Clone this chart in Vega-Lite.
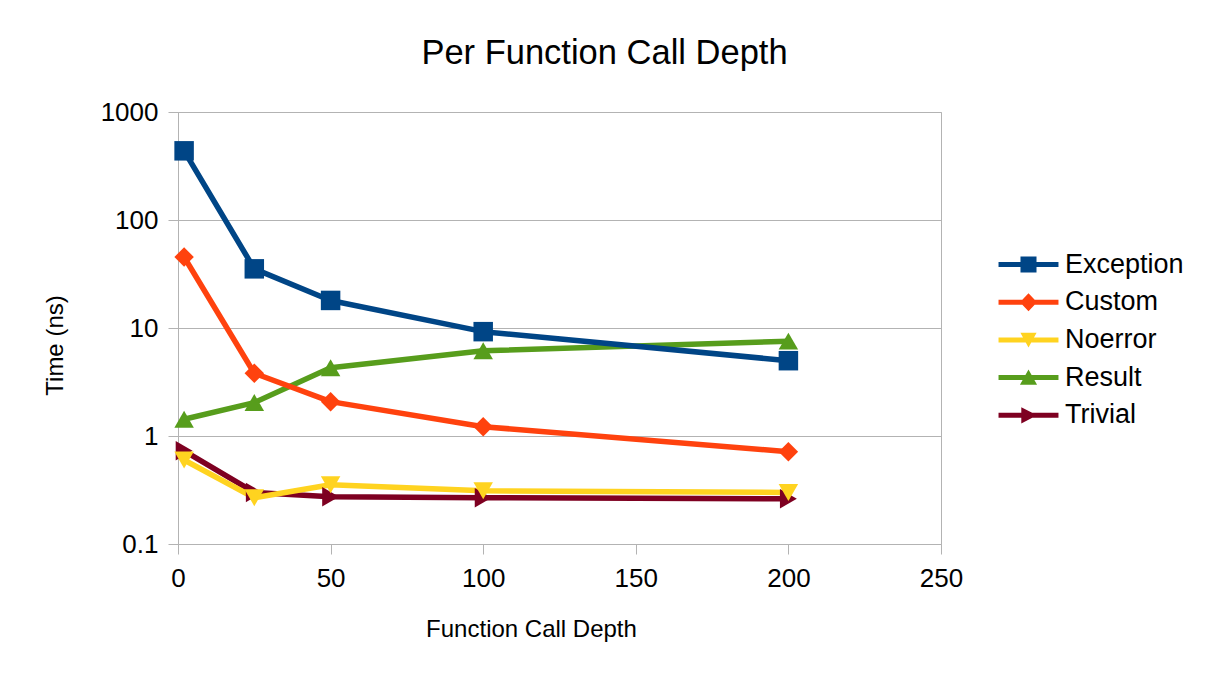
{
  "$schema": "https://vega.github.io/schema/vega-lite/v6.json",
  "width": 763,
  "height": 432,
  "autosize": {"type": "none"},
  "padding": {"left": 178, "top": 112, "right": 268, "bottom": 136},
  "background": "white",
  "config": {
    "font": "Liberation Sans",
    "view": {"stroke": "#b3b3b3", "strokeWidth": 1}
  },
  "title": {
    "text": "Per Function Call Depth",
    "font": "Liberation Sans",
    "fontSize": 34.5,
    "fontWeight": "normal",
    "color": "black",
    "anchor": "middle",
    "frame": "group",
    "baseline": "alphabetic",
    "offset": 1,
    "dx": 45
  },
  "data": {
    "values": [
      {"series": "Trivial", "depth": 2, "time": 0.73},
      {"series": "Trivial", "depth": 25, "time": 0.30},
      {"series": "Trivial", "depth": 50, "time": 0.274},
      {"series": "Trivial", "depth": 100, "time": 0.268},
      {"series": "Trivial", "depth": 200, "time": 0.262},
      {"series": "Noerror", "depth": 2, "time": 0.6},
      {"series": "Noerror", "depth": 25, "time": 0.268},
      {"series": "Noerror", "depth": 50, "time": 0.354},
      {"series": "Noerror", "depth": 100, "time": 0.311},
      {"series": "Noerror", "depth": 200, "time": 0.30},
      {"series": "Result", "depth": 2, "time": 1.43},
      {"series": "Result", "depth": 25, "time": 2.04},
      {"series": "Result", "depth": 50, "time": 4.28},
      {"series": "Result", "depth": 100, "time": 6.15},
      {"series": "Result", "depth": 200, "time": 7.55},
      {"series": "Custom", "depth": 2, "time": 45.4},
      {"series": "Custom", "depth": 25, "time": 3.81},
      {"series": "Custom", "depth": 50, "time": 2.08},
      {"series": "Custom", "depth": 100, "time": 1.22},
      {"series": "Custom", "depth": 200, "time": 0.716},
      {"series": "Exception", "depth": 2, "time": 437},
      {"series": "Exception", "depth": 25, "time": 35.3},
      {"series": "Exception", "depth": 50, "time": 18.0},
      {"series": "Exception", "depth": 100, "time": 9.25},
      {"series": "Exception", "depth": 200, "time": 4.98}
    ]
  },
  "encoding": {
    "x": {
      "field": "depth",
      "type": "quantitative",
      "scale": {"domain": [0, 250], "nice": false, "zero": false},
      "axis": {
        "title": "Function Call Depth",
        "values": [0, 50, 100, 150, 200, 250],
        "grid": false,
        "labelFlush": false,
        "domainColor": "#b3b3b3",
        "tickColor": "#b3b3b3",
        "tickSize": 10,
        "labelFontSize": 26,
        "labelColor": "black",
        "labelPadding": 11,
        "labelFont": "Liberation Sans",
        "titleFont": "Liberation Sans",
        "titleFontSize": 24,
        "titleFontWeight": "normal",
        "titleColor": "black",
        "titleAnchor": "start",
        "titleAlign": "center",
        "titleBaseline": "alphabetic",
        "titleX": 353,
        "titleY": 92
      }
    },
    "y": {
      "field": "time",
      "type": "quantitative",
      "scale": {"type": "log", "domain": [0.1, 1000], "nice": false},
      "axis": {
        "title": "Time (ns)",
        "values": [0.1, 1, 10, 100, 1000],
        "format": "~g",
        "grid": true,
        "labelFlush": false,
        "gridColor": "#b3b3b3",
        "gridWidth": 1,
        "domainColor": "#b3b3b3",
        "tickColor": "#b3b3b3",
        "tickSize": 10,
        "labelFontSize": 26,
        "labelColor": "black",
        "labelPadding": 10,
        "labelFont": "Liberation Sans",
        "titleFont": "Liberation Sans",
        "titleFontSize": 24,
        "titleFontWeight": "normal",
        "titleColor": "black",
        "titleAngle": -90,
        "titleAlign": "center",
        "titleBaseline": "alphabetic",
        "titleAnchor": "start",
        "titleX": -116,
        "titleY": 233
      }
    }
  },
  "resolve": {
    "scale": {"color": "independent", "shape": "independent"},
    "legend": {"color": "independent", "shape": "independent"}
  },
  "layer": [
    {
      "mark": {"type": "line", "strokeWidth": 5.5, "strokeJoin": "round"},
      "encoding": {
        "color": {
          "field": "series",
          "type": "nominal",
          "scale": {
            "domain": ["Exception", "Custom", "Noerror", "Result", "Trivial"],
            "range": ["#004586", "#ff420e", "#ffd320", "#579d1c", "#7e0021"]
          },
          "legend": null
        }
      }
    },
    {
      "mark": {"type": "point", "filled": true, "opacity": 1, "size": 380},
      "encoding": {
        "shape": {
          "field": "series",
          "type": "nominal",
          "scale": {
            "domain": ["Exception", "Custom", "Noerror", "Result", "Trivial"],
            "range": ["square", "diamond", "triangle-down", "triangle-up", "triangle-right"]
          },
          "legend": null
        },
        "color": {
          "field": "series",
          "type": "nominal",
          "scale": {
            "domain": ["Exception", "Custom", "Noerror", "Result", "Trivial"],
            "range": ["#004586", "#ff420e", "#ffd320", "#579d1c", "#7e0021"]
          },
          "legend": null
        }
      }
    },
    {
      "mark": {"type": "point", "filled": true, "opacity": 0},
      "encoding": {
        "shape": {
          "field": "series",
          "type": "nominal",
          "scale": {
            "domain": ["Exception", "Custom", "Noerror", "Result", "Trivial"],
            "range": [
              "M-3.33,-0.28H3.33V0.28H-3.33Z M-0.89,-0.89H0.89V0.89H-0.89Z",
              "M-3.33,-0.28H3.33V0.28H-3.33Z M0,-1L0.95,0L0,1L-0.95,0Z",
              "M-3.33,-0.28H3.33V0.28H-3.33Z M-0.9,-0.8H0.9L0,0.85Z",
              "M-3.33,-0.28H3.33V0.28H-3.33Z M0,-0.9L0.95,0.8H-0.95Z",
              "M-3.33,-0.28H3.33V0.28H-3.33Z M-0.8,-0.9L0.95,0L-0.8,0.9Z"
            ]
          },
          "legend": {
            "title": null,
            "orient": "none",
            "legendX": 837,
            "legendY": 139,
            "padding": 0,
            "labelFontSize": 27,
            "labelFont": "Liberation Sans",
            "labelColor": "black",
            "labelOffset": 23,
            "rowPadding": 9.7,
            "symbolSize": 324,
            "symbolOpacity": 1,
            "symbolStrokeWidth": 0
          }
        },
        "color": {
          "field": "series",
          "type": "nominal",
          "scale": {
            "domain": ["Exception", "Custom", "Noerror", "Result", "Trivial"],
            "range": ["#004586", "#ff420e", "#ffd320", "#579d1c", "#7e0021"]
          },
          "legend": {
            "title": null,
            "orient": "none",
            "legendX": 837,
            "legendY": 139,
            "padding": 0,
            "labelFontSize": 27,
            "labelFont": "Liberation Sans",
            "labelColor": "black",
            "labelOffset": 23,
            "rowPadding": 9.7,
            "symbolSize": 324,
            "symbolOpacity": 1,
            "symbolStrokeWidth": 0
          }
        }
      }
    }
  ]
}
